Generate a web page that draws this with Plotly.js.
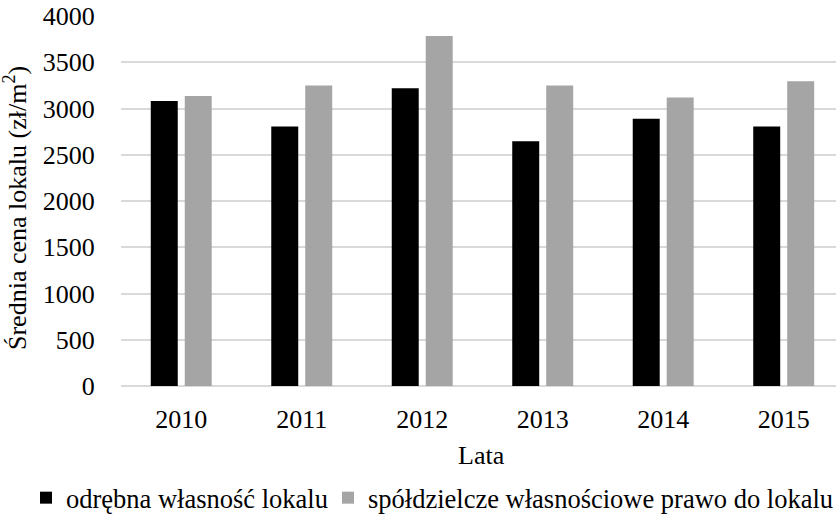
<!DOCTYPE html>
<html>
<head>
<meta charset="utf-8">
<script src="https://cdn.plot.ly/plotly-3.0.1.min.js"></script>
<style>html,body{margin:0;padding:0;background:#fff;}#chart{width:836px;height:516px;}</style>
</head>
<body>
<div id="chart"></div>
<script>
const years = ["2010", "2011", "2012", "2013", "2014", "2015"];
const odrebna = [3080, 2805, 3220, 2645, 2890, 2805];
const spoldzielcze = [3135, 3250, 3785, 3250, 3120, 3295];
const seriesNames = ["odrębna własność lokalu", "spółdzielcze własnościowe prawo do lokalu"];
const yTicks = [0, 500, 1000, 1500, 2000, 2500, 3000, 3500, 4000];
const yTitle = "Średnia cena lokalu (zł/m<sup>2</sup>)";
const xTitle = "Lata";

const FAMILY = "'Liberation Serif', 'Times New Roman', serif";
function f(size) { return {family: FAMILY, size: size, color: "#000"}; }

const data = [
  {type: "bar", x: years, y: odrebna, name: seriesNames[0], marker: {color: "#000000"}, legend: "legend"},
  {type: "bar", x: years, y: spoldzielcze, name: seriesNames[1], marker: {color: "#a5a5a5"}, legend: "legend2"}
];

function legendAt(px) {
  return {orientation: "h", xref: "container", x: px / 836, xanchor: "left", yref: "container", y: 0.035, yanchor: "middle",
          font: f(26.5), itemwidth: 30, borderwidth: 0, bgcolor: "rgba(0,0,0,0)"};
}

const layout = {
  width: 836, height: 516,
  margin: {l: 121, r: 0, t: 16, b: 130},
  paper_bgcolor: "#fff", plot_bgcolor: "#fff",
  font: f(26),
  barmode: "group",
  bargap: 0.436,
  bargroupgap: 0.206,
  showlegend: true,
  legend: legendAt(26),
  legend2: legendAt(328),
  xaxis: {
    type: "category", range: [-0.5, 5.434],
    showgrid: false, zeroline: false, showline: false,
    ticks: "outside", ticklen: 10, tickcolor: "rgba(0,0,0,0)",
    tickfont: f(26)
  },
  yaxis: {
    range: [0, 4000], tickvals: yTicks,
    showgrid: true, gridcolor: "#d9d9d9", gridwidth: 2,
    zeroline: true, zerolinecolor: "#d9d9d9", zerolinewidth: 2,
    showline: false,
    ticks: "outside", ticklen: 20, tickcolor: "rgba(0,0,0,0)",
    tickfont: f(26)
  },
  annotations: [
    {text: yTitle, xref: "paper", yref: "paper", x: (15 - 121) / 715, y: (386 - 208) / 370,
     xanchor: "center", yanchor: "middle", textangle: -90, showarrow: false, font: f(26)},
    {text: xTitle, xref: "paper", yref: "paper", x: (481 - 121) / 715, y: (386 - 455) / 370,
     xanchor: "center", yanchor: "middle", showarrow: false, font: f(26)}
  ]
};

Plotly.newPlot("chart", data, layout, {displayModeBar: false, staticPlot: true});
</script>
</body>
</html>
